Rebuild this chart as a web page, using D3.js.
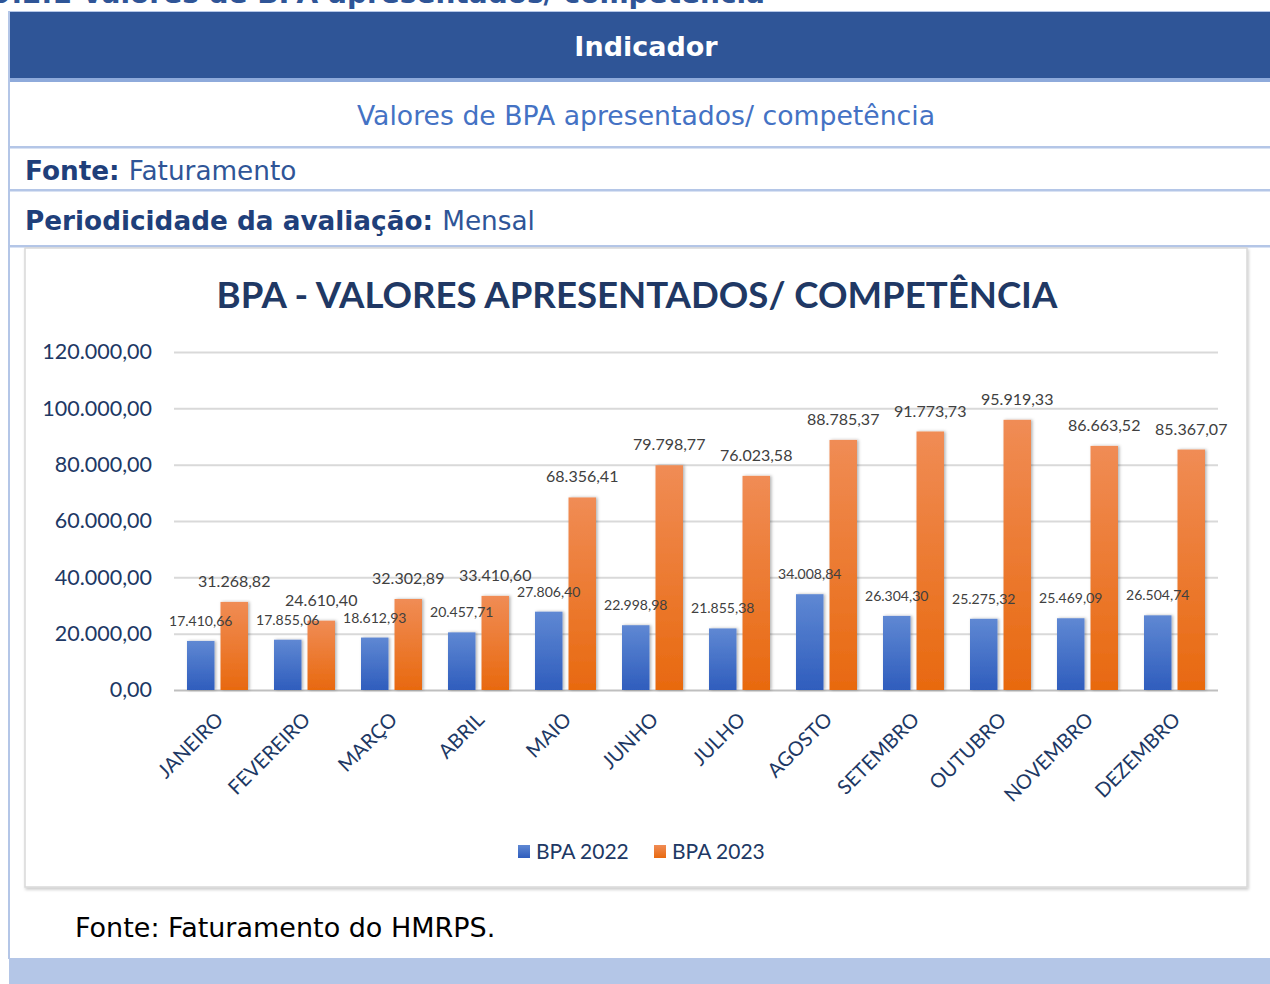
<!DOCTYPE html>
<html>
<head>
  <meta charset="utf-8">
  <title>BPA - Valores apresentados/ competência</title>
  <style>
    html, body { margin: 0; padding: 0; background: #fff; }
    svg { display: block; }
    .tbl { font-family: "DejaVu Sans", Verdana, sans-serif; }
    .chart { font-family: Lato, "Open Sans", sans-serif; }
  </style>
</head>
<body>
  <svg id="page"></svg>

  <script src="https://cdn.jsdelivr.net/npm/d3@7"></script>
  <script>
    // data
    const months = ['JANEIRO', 'FEVEREIRO', 'MARÇO', 'ABRIL', 'MAIO', 'JUNHO',
      'JULHO', 'AGOSTO', 'SETEMBRO', 'OUTUBRO', 'NOVEMBRO', 'DEZEMBRO'];
    const bpa2022 = [17410.66, 17855.06, 18612.93, 20457.71, 27806.40, 22998.98,
      21855.38, 34008.84, 26304.30, 25275.32, 25469.09, 26504.74];
    const bpa2023 = [31268.82, 24610.40, 32302.89, 33410.60, 68356.41, 79798.77,
      76023.58, 88785.37, 91773.73, 95919.33, 86663.52, 85367.07];
    const seriesNames = ['BPA 2022', 'BPA 2023'];
    const yTicks = [0, 20000, 40000, 60000, 80000, 100000, 120000];

    const W = 1270, H = 984;
    const ptBR = d3.formatLocale({ decimal: ',', thousands: '.', grouping: [3], currency: ['R$ ', ''] });
    const fmt = ptBR.format(',.2f');

    const svg = d3.select('#page').attr('width', W).attr('height', H);
    const defs = svg.append('defs');

    // bar gradients
    const grads = [['g2022', '#5f88d3', '#2f5dbd'], ['g2023', '#f08c55', '#e8690f']];
    grads.forEach(function(g) {
      const lg = defs.append('linearGradient').attr('id', g[0])
        .attr('x1', 0).attr('y1', 0).attr('x2', 0).attr('y2', 1);
      lg.append('stop').attr('offset', '0%').attr('stop-color', g[1]);
      lg.append('stop').attr('offset', '100%').attr('stop-color', g[2]);
    });
    const sh = defs.append('filter').attr('id', 'shadow')
      .attr('x', '-30%').attr('y', '-10%').attr('width', '160%').attr('height', '130%');
    sh.append('feDropShadow').attr('dx', 1.5).attr('dy', 0).attr('stdDeviation', 1.5)
      .attr('flood-color', '#000').attr('flood-opacity', 0.3);
    const boxSh = defs.append('filter').attr('id', 'boxshadow')
      .attr('x', '-2%').attr('y', '-2%').attr('width', '104%').attr('height', '104%');
    boxSh.append('feDropShadow').attr('dx', 1).attr('dy', 2).attr('stdDeviation', 1.5)
      .attr('flood-color', '#000').attr('flood-opacity', 0.2);

    // ---- document table around the chart ----
    const tbl = svg.append('g').attr('class', 'tbl');

    // section heading, cut by the top edge like in the page capture
    tbl.append('text')
      .attr('x', -8).attr('y', 3)
      .attr('font-size', 28).attr('font-weight', 'bold').attr('fill', '#2f5597')
      .text('9.2.1 Valores de BPA apresentados/ competência');

    tbl.append('rect').attr('x', 9).attr('y', 11).attr('width', W).attr('height', 1).attr('fill', '#b4c6e7');
    tbl.append('rect').attr('x', 10).attr('y', 12).attr('width', W).attr('height', 66).attr('fill', '#2f5597');
    tbl.append('rect').attr('x', 10).attr('y', 78).attr('width', W).attr('height', 4).attr('fill', '#8eaadb');
    tbl.append('text')
      .attr('x', 646).attr('y', 56).attr('text-anchor', 'middle')
      .attr('font-size', 27).attr('font-weight', 'bold').attr('fill', '#fff')
      .text('Indicador');

    tbl.append('text')
      .attr('x', 646).attr('y', 125).attr('text-anchor', 'middle')
      .attr('font-size', 26.7).attr('fill', '#4472c4')
      .text('Valores de BPA apresentados/ competência');

    [146, 189, 245].forEach(function(y) {
      tbl.append('rect').attr('x', 9).attr('y', y).attr('width', W).attr('height', 2.5).attr('fill', '#b4c6e7');
    });

    const rows = [['Fonte: ', 'Faturamento', 180], ['Periodicidade da avaliação: ', 'Mensal', 230]];
    rows.forEach(function(r) {
      const t = tbl.append('text').attr('x', 25).attr('y', r[2]).attr('font-size', 26.3);
      t.append('tspan').attr('font-weight', 'bold').attr('fill', '#1f3f7a').text(r[0]);
      t.append('tspan').attr('fill', '#2f5597').text(r[1]);
    });

    tbl.append('rect').attr('x', 8).attr('y', 11).attr('width', 2).attr('height', 948).attr('fill', '#b4c6e7');

    tbl.append('text')
      .attr('x', 75).attr('y', 937)
      .attr('font-size', 27).attr('fill', '#000')
      .text('Fonte: Faturamento do HMRPS.');

    tbl.append('rect').attr('x', 9).attr('y', 958).attr('width', W).attr('height', H - 958).attr('fill', '#b4c6e7');

    // ---- chart ----
    const chart = svg.append('g').attr('class', 'chart');
    chart.append('rect')
      .attr('x', 25).attr('y', 248).attr('width', 1222).attr('height', 639)
      .attr('fill', '#fff').attr('stroke', '#d9d9d9').attr('stroke-width', 1.5)
      .attr('filter', 'url(#boxshadow)');

    chart.append('text')
      .attr('x', 637).attr('y', 308).attr('text-anchor', 'middle')
      .attr('font-size', 36.6).attr('font-weight', 'bold').attr('fill', '#203864')
      .text('BPA - VALORES APRESENTADOS/ COMPETÊNCIA');

    const margin = { left: 174, right: 1218, top: 352, bottom: 690 };
    const x = d3.scaleBand().domain(months).range([margin.left, margin.right]);
    const x1 = d3.scaleBand().domain(seriesNames)
      .range([13, x.bandwidth() - 13]).paddingInner(0.18);
    const y = d3.scaleLinear().domain([0, 120000]).range([margin.bottom, margin.top]);

    // gridlines + y labels
    const yAxis = d3.axisLeft(y).tickValues(yTicks).tickFormat(fmt)
      .tickSize(-(margin.right - margin.left)).tickPadding(22);
    const yg = chart.append('g').attr('transform', `translate(${margin.left},0)`).call(yAxis);
    yg.select('.domain').remove();
    yg.selectAll('.tick line').attr('stroke', '#d9d9d9').attr('stroke-width', 2);
    yg.selectAll('.tick text')
      .attr('font-family', 'Lato, sans-serif').attr('font-size', 21.5).attr('fill', '#203864');
    yg.selectAll('.tick').filter(function(d) { return d === 0; }).select('line').attr('stroke', '#bfbfbf');

    // x labels
    const xAxis = d3.axisBottom(x).tickSize(0).tickPadding(0);
    const xg = chart.append('g').attr('transform', `translate(0,${margin.bottom})`).call(xAxis);
    xg.select('.domain').remove();
    xg.selectAll('.tick text')
      .attr('font-family', 'Lato, sans-serif').attr('font-size', 20).attr('fill', '#203864')
      .attr('text-anchor', 'end').attr('dy', 0)
      .attr('transform', 'translate(7,31) rotate(-45)');

    // bars first, then all value labels on top
    const series = [bpa2022, bpa2023];
    const barLayer = chart.append('g');
    const labelLayer = chart.append('g');
    series.forEach(function(vals, si) {
      const name = seriesNames[si];
      barLayer.append('g').selectAll('rect').data(vals).enter().append('rect')
        .attr('x', (d, i) => x(months[i]) + x1(name))
        .attr('y', d => y(d))
        .attr('width', x1.bandwidth())
        .attr('height', d => y(0) - y(d))
        .attr('fill', `url(#g${name.slice(4)})`)
        .attr('filter', 'url(#shadow)');
      labelLayer.append('g').selectAll('text').data(vals).enter().append('text')
        .attr('x', (d, i) => x(months[i]) + x1(name) + x1.bandwidth() / 2)
        .attr('y', d => y(d) - 15)
        .attr('text-anchor', 'middle')
        .attr('font-size', si === 0 ? 14 : 16)
        .attr('fill', '#404040')
        .text(d => fmt(d));
    });

    // legend
    const leg = chart.append('g').attr('transform', 'translate(518,845)');
    const legX = [0, 136];
    seriesNames.forEach(function(n, i) {
      leg.append('rect').attr('x', legX[i]).attr('y', 0).attr('width', 12).attr('height', 13)
        .attr('fill', `url(#g${n.slice(4)})`);
      leg.append('text').attr('x', legX[i] + 18).attr('y', 14)
        .attr('font-size', 21).attr('fill', '#203864').text(n);
    });
  </script>
</body>
</html>
